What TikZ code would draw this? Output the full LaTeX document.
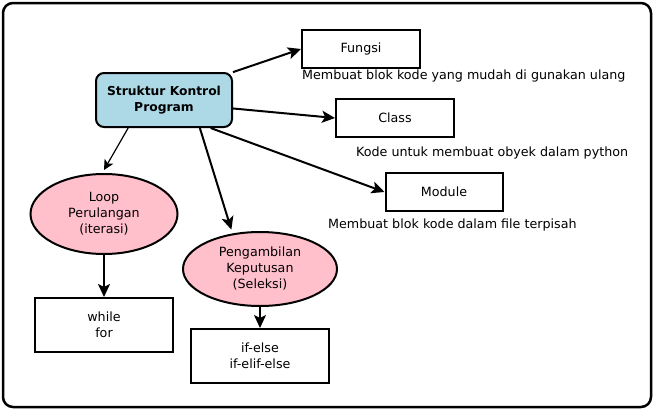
\documentclass[tikz,border=0pt]{standalone}
\usepackage{fontspec}
\setmainfont{DejaVu Sans}
\usepackage{tikz}
\usetikzlibrary{shapes.geometric,arrows.meta,positioning}
\definecolor{birumuda}{HTML}{ADD8E6}
\definecolor{merahmuda}{HTML}{FFC0CB}

\begin{document}
\begin{tikzpicture}[x=1pt,y=-1pt,
  kotak/.style={draw,line width=2,minimum width=118,minimum height=38,inner sep=0,font=\fontsize{12.7}{16}\selectfont,align=center},
  elips/.style={ellipse,draw,line width=2,fill=merahmuda,inner sep=0,font=\fontsize{12.7}{16}\selectfont,align=center},
  ket/.style={anchor=west,inner sep=0,font=\fontsize{12.7}{15}\selectfont},
  panah/.style={line width=2,-{Stealth[length=13,width=12,inset=3]}}]
\useasboundingbox (0,0) rectangle (654,410);
\draw[line width=2.5,rounded corners=10] (3,3) rectangle (651,407);
% pusat
\node[draw,line width=2,rounded corners=8,fill=birumuda,minimum width=136,minimum height=54,inner sep=0,align=center,font=\bfseries\fontsize{12.3}{16}\selectfont] (pusat) at (164,100) {Struktur Kontrol\\Program};
% cabang kanan
\node[kotak] (fungsi) at (361,49) {Fungsi};
\node[kotak] (class) at (395,118) {Class};
\node[kotak,minimum width=117] (module) at (444,192) {Module};
\node[ket] (ketfungsi) at (302,76) {Membuat blok kode yang mudah di gunakan ulang};
\node[ket] (ketclass) at (356,153) {Kode untuk membuat obyek dalam python};
\node[ket] (ketmodule) at (328,225) {Membuat blok kode dalam file terpisah};
% cabang bawah
\node[elips,minimum width=147,minimum height=80] (loop) at (104,214) {Loop\\Perulangan\\(iterasi)};
\node[elips,minimum width=154,minimum height=74] (seleksi) at (260,269) {Pengambilan\\Keputusan\\(Seleksi)};
\node[kotak,minimum width=138,minimum height=54] (while) at (104,325) {while\\for};
\node[kotak,minimum width=138,minimum height=54] (ifelse) at (260,356) {if-else\\if-elif-else};
% panah
\draw[panah] (pusat.22) -- (fungsi.west);
\draw[panah] (pusat.-7) -- (class.west);
\draw[panah] (pusat.-31) -- (module.west);
\draw[line width=1.2,-{Stealth[length=10,width=10,inset=2.5]}] (pusat.218) -- ([yshift=3]loop.north);
\draw[panah] (pusat.-38) -- ([yshift=4]seleksi.129);
\draw[panah] (loop) -- (while);
\draw[panah] (seleksi) -- (ifelse);
\end{tikzpicture}
\end{document}
